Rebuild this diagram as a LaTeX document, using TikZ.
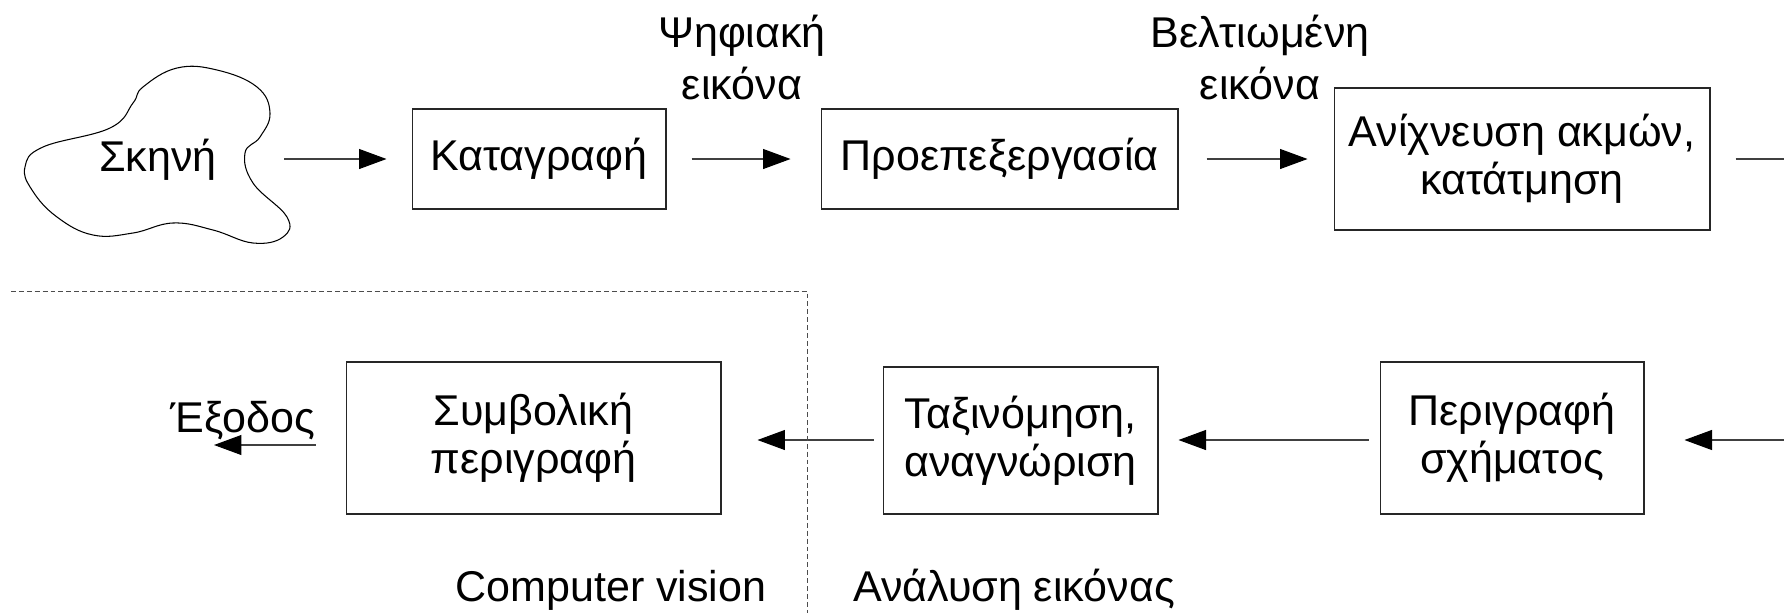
\documentclass[tikz,border=0pt]{standalone}
\usepackage{fontspec}
\setmainfont{Liberation Sans}
\usetikzlibrary{arrows.meta}

\begin{document}
\begin{tikzpicture}[x=0.02cm, y=-0.02cm,
    box/.style={draw=black!85, line width=0.6pt, inner sep=0pt, align=center,
        font=\fontsize{24.5}{27.3}\selectfont},
    lbl/.style={inner sep=0pt, align=center, font=\fontsize{24.5}{29.6}\selectfont},
    arr/.style={draw=black!75, line width=0.6pt,
        -{Triangle[length=0.55cm,width=0.4cm,color=black]}},
    ]
    \useasboundingbox (0,0) rectangle (1784,613);

    % 第一行
    \draw[line width=0.6pt] plot[smooth cycle, tension=0.7] coordinates {
        (25,167) (43,147) (110,128) (133,103) (143,87) (177,68) (217,70)
        (257,87) (270,113) (260,137) (245,153) (253,183) (287,217) (283,237)
        (253,243) (213,230) (173,223) (133,233) (93,235) (57,217) (32,190)};
    \node[lbl] (skini) at (158,160) {Σκηνή};
    \coordinate (skiniout) at (284,159);
    \node[box, minimum width=5.08cm, minimum height=2cm] (katagrafi) at (539,159) {Καταγραφή};
    \node[box, minimum width=7.14cm, minimum height=2cm] (proep) at (999.5,159) {Προεπεξεργασία};
    \node[box, minimum width=7.52cm, minimum height=2.84cm] (anix) at (1522,159)
        {Ανίχνευση ακμών,\\κατάτμηση};
    \coordinate (rightout) at (1784,159);

    \node[lbl] (psifiaki) at (742,57) {Ψηφιακή\\εικόνα};
    \node[lbl] (veltiomeni) at (1260,57) {Βελτιωμένη\\εικόνα};

    \draw[arr, shorten >=0.5cm] (skiniout) -- (katagrafi);
    \draw[arr, shorten <=0.5cm, shorten >=0.6cm] (katagrafi) -- (proep);
    \draw[arr, shorten <=0.56cm, shorten >=0.52cm] (proep) -- (anix);
    \draw[draw=black!75, line width=0.6pt, shorten <=0.5cm] (anix.east) -- (rightout);

    % 第二行
    \coordinate (row) at (0,440);
    \node[box, minimum width=5.28cm, minimum height=3.04cm] (perig) at (1512,438)
        {Περιγραφή\\σχήματος};
    \node[box, minimum width=5.5cm, minimum height=2.94cm] (taxin) at (1020.5,440.5)
        {Ταξινόμηση,\\αναγνώριση};
    \node[box, minimum width=7.5cm, minimum height=3.04cm] (symb) at (533.5,438)
        {Συμβολική\\περιγραφή};
    \coordinate (rightin) at (1784,440);
    \coordinate (exit) at (214,445);
    \node[lbl, anchor=base] (exodos) at (243,432) {Έξοδος};

    \draw[arr, shorten >=0.8cm] (rightin) -- (perig.east |- row);
    \draw[arr, shorten <=0.22cm, shorten >=0.4cm] (perig.west |- row) -- (taxin.east |- row);
    \draw[arr, shorten <=0.18cm, shorten >=0.72cm] (taxin.west |- row) -- (symb.east |- row);
    \draw[arr, shorten <=0.6cm] (symb.west |- exit) -- (exit);

    % 分界线
    \draw[black!70, line width=0.5pt, dash pattern=on 2.8pt off 1.7pt]
        (11,291) -- (807,291) -- (807,613);
    \node[lbl, anchor=base] (cv) at (611,601) {Computer vision};
    \node[lbl, anchor=base] (analysi) at (1014,601) {Ανάλυση εικόνας};
\end{tikzpicture}
\end{document}
